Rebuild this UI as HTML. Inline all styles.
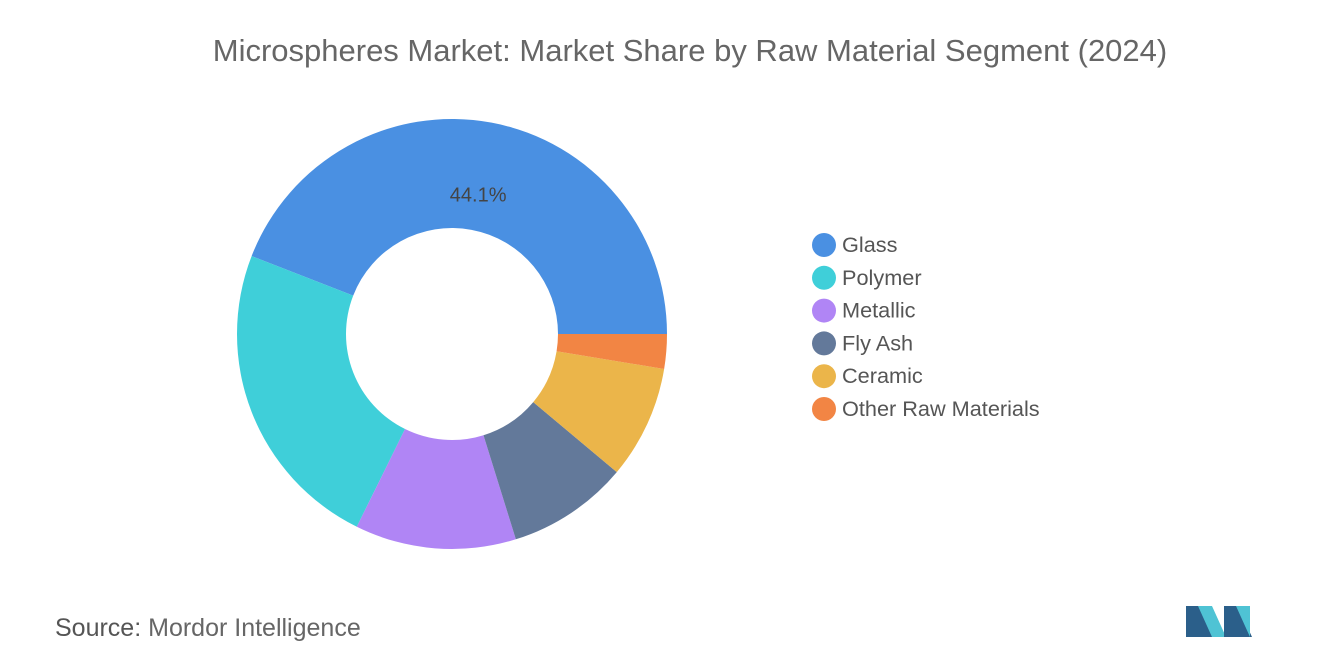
<!DOCTYPE html>
<html><head><meta charset="utf-8">
<style>
body{margin:0;background:#fff;width:1320px;height:665px;overflow:hidden;font-family:"Liberation Sans",sans-serif;}
</style></head>
<body>
<svg width="1320" height="665">
<text x="690" y="61" text-anchor="middle" font-size="31" fill="#666">Microspheres Market: Market Share by Raw Material Segment (2024)</text>
<g id="slices"></g>
<g id="legend"></g>
<text x="55" y="636" font-size="25" fill="#666"><tspan fill="#555">Source:</tspan>  Mordor Intelligence</text>
<g>
<polygon points="1186,637 1186,606 1200,606 1214,637" fill="#2b5f8a"/>
<polygon points="1198,606 1212,606 1226,637 1212,637" fill="#4fc3d4"/>
<polygon points="1224,637 1224,606 1238,606 1252,637" fill="#2b5f8a"/>
<polygon points="1236,606 1250,606 1250,637" fill="#4fc3d4"/>
</g>
</svg>
<script>
const categories=["Glass","Polymer","Metallic","Fly Ash","Ceramic","Other Raw Materials"];
const values=[44.1,23.6,12.1,9.1,8.5,2.6];
const colors=["#4a90e2","#3fcfd9","#b085f5","#63799a","#ebb54a","#f28544"];
const cx=452,cy=334,R=215,r=106;
const ns="http://www.w3.org/2000/svg";
const g=document.getElementById('slices');
const total=values.reduce((a,b)=>a+b,0);
let a0=0;
function pt(rad,a){return [cx+rad*Math.cos(a),cy-rad*Math.sin(a)];}
values.forEach((v,i)=>{
  const a1=a0+v/total*2*Math.PI;
  const large=(a1-a0)>Math.PI?1:0;
  const [x0,y0]=pt(R,a0),[x1,y1]=pt(R,a1),[x2,y2]=pt(r,a1),[x3,y3]=pt(r,a0);
  const p=document.createElementNS(ns,'path');
  p.setAttribute('d',`M${x0},${y0}A${R},${R} 0 ${large} 0 ${x1},${y1}L${x2},${y2}A${r},${r} 0 ${large} 1 ${x3},${y3}Z`);
  p.setAttribute('fill',colors[i]);
  
  
  g.appendChild(p);
  if(i===0){
    const m=(a0+a1)/2;const [lx,ly]=pt(R*0.66,m);
    const t=document.createElementNS(ns,'text');
    t.setAttribute('x',lx);t.setAttribute('y',ly+7);t.setAttribute('text-anchor','middle');
    t.setAttribute('font-size','20');t.setAttribute('fill','#444');
    t.textContent=v+'%';
    
    
    g.appendChild(t);
  }
  a0=a1;
});
const lg=document.getElementById('legend');
categories.forEach((c,i)=>{
  const y=245+i*32.8;
  const e=document.createElementNS(ns,'g');
  
  
  const ci=document.createElementNS(ns,'circle');
  ci.setAttribute('cx',824);ci.setAttribute('cy',y);ci.setAttribute('r',12);ci.setAttribute('fill',colors[i]);
  const t=document.createElementNS(ns,'text');
  t.setAttribute('x',842);t.setAttribute('y',y+7);t.setAttribute('font-size','21.7');t.setAttribute('fill','#555');
  t.textContent=c;
  e.appendChild(ci);e.appendChild(t);lg.appendChild(e);
});
</script>
</body></html>
